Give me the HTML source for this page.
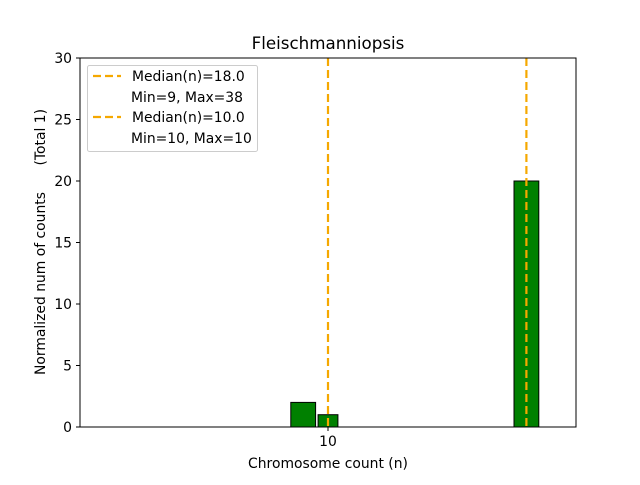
<!DOCTYPE html>
<html><head><meta charset="utf-8"><style>
body{margin:0;background:#fff;}
svg{font-family:"DejaVu Sans","Liberation Sans",sans-serif;}
</style></head><body>
<svg id="chart" width="640" height="480">
<rect width="640" height="480" fill="#fff"/>
<text x="328" y="49" font-size="16.7" text-anchor="middle">Fleischmanniopsis</text>
<g id="bars"></g>
<g id="medians"></g>
<rect x="80" y="58" width="496" height="369" fill="none" stroke="#000" stroke-width="1"/>
<g id="yticks"></g>
<g id="xticks"></g>
<text x="328" y="468" font-size="13.9" text-anchor="middle">Chromosome count (n)</text>
<text transform="translate(45,242) rotate(-90)" font-size="13.9" text-anchor="middle" xml:space="preserve" style="white-space:pre">Normalized num of counts      (Total 1)</text>
<g>
<rect x="87.5" y="65.5" width="170" height="86" rx="2" fill="#fff" stroke="#ccc"/>
<line x1="93" y1="76" x2="121" y2="76" stroke="#f5a800" stroke-width="2.2" stroke-dasharray="8,4"/>
<text x="132" y="81" font-size="13.9">Median(n)=18.0</text>
<text x="131" y="102" font-size="13.9">Min=9, Max=38</text>
<line x1="93" y1="117" x2="121" y2="117" stroke="#f5a800" stroke-width="2.2" stroke-dasharray="8,4"/>
<text x="132" y="122" font-size="13.9">Median(n)=10.0</text>
<text x="131" y="143" font-size="13.9">Min=10, Max=10</text>
</g>
</svg>
<script>
const barStarts=[8.5,9.6,17.5];
const barEnds=[9.5,10.4,18.5];
const barValues=[2,1,20];
const medians=[10,18];
const yTicks=[0,5,10,15,20,25,30];
const xTicks=[10];
const NS="http://www.w3.org/2000/svg";
const X=v=>80+(v-0)/20*496;
const Y=v=>427-v/30*369;
function mk(t,a,p){const e=document.createElementNS(NS,t);for(const k in a)e.setAttribute(k,a[k]);document.getElementById(p).appendChild(e);return e;}
barValues.forEach((v,i)=>{
 const r=mk('rect',{x:X(barStarts[i]),y:Y(v),width:X(barEnds[i])-X(barStarts[i]),height:Y(0)-Y(v),fill:'#008000',stroke:'#000','stroke-width':1},'bars');
 
 
});
medians.forEach((m,i)=>{
 const l=mk('line',{x1:X(m),x2:X(m),y1:58,y2:427,stroke:'#f5a800','stroke-width':2.2,'stroke-dasharray':'8,4'},'medians');
 
 
});
yTicks.forEach(t=>{
 const l=mk('line',{x1:76,x2:80,y1:Y(t),y2:Y(t),stroke:'#000'},'yticks');
 
 
 const s=mk('text',{x:72,y:Y(t)+5,'font-size':13.9,'text-anchor':'end'},'yticks');
 s.textContent=t;
 
 
});
xTicks.forEach(t=>{
 const l=mk('line',{x1:X(t),x2:X(t),y1:427,y2:431,stroke:'#000'},'xticks');
 
 
 const s=mk('text',{x:X(t),y:446,'font-size':13.9,'text-anchor':'middle'},'xticks');
 s.textContent=t;
 
 
});
</script>
</body></html>
